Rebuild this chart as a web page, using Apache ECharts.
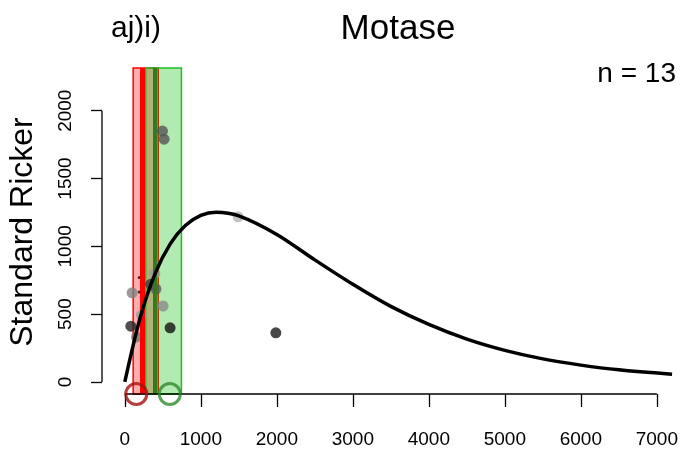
<!DOCTYPE html>
<html>
<head>
<meta charset="utf-8">
<script src="https://cdn.jsdelivr.net/npm/echarts@6/dist/echarts.min.js"></script>
<style>
    html, body { margin: 0; padding: 0; background: #fff; }
    #chart { width: 681px; height: 451px; }
</style>
</head>
<body>
<div id="chart"></div>
<script>
// ticks
const xTicks = [0, 1000, 2000, 3000, 4000, 5000, 6000, 7000]
const yTicks = [0, 500, 1000, 1500, 2000]

// observed points (13)
const pointX = [96, 79, 395, 340, 410, 504, 596, 496, 517, 1491, 1987, 219, 154]
const pointY = [657, 411, 800, 720, 685, 560, 399, 1850, 1790, 1218, 362, 492, 332]

// two tiny marks
const dotX = [190, 190]
const dotY = [770, 664]

// fitted curve
const curveX = [0, 200, 400, 600, 800, 1000, 1200, 1500, 2000, 2500, 3000, 3500, 4000, 4500, 5000, 5500, 6000, 6500, 7200]
const curveY = [0, 470, 800, 1020, 1155, 1228, 1252, 1225, 1088, 900, 720, 557, 424, 316, 233, 170, 124, 89, 56]

// bands, lines and circles on the x axis
const redBand = [110, 440]
const greenBand = [275, 745]
const redLine = 230
const greenLine = 400
const redCircle = 151
const greenCircle = 592

// plot range
const xMin = -300, xMax = 7210
const yMin = -89, yMax = 2315

const pointColors = ['#808080', '#222222', '#9a9a9a', '#3a3a3a', '#5a5a5a', '#8a8a8a',
    '#111111', '#555555', '#555555', '#b5b5b5', '#1a1a1a', '#999999', '#777777']

const font = 'Liberation Sans, Arial, Helvetica, sans-serif'

onload = () => {
    let myChart = echarts.init(document.getElementById('chart'), null, { renderer: 'canvas' })
    let option

    let points = pointX.map((x, i) => ({
        value: [x, pointY[i]],
        itemStyle: { color: pointColors[i] }
    }))
    let dots = dotX.map((x, i) => [x, dotY[i]])
    let curve = curveX.map((x, i) => [x, curveY[i]])

    option = {
        animation: false,
        backgroundColor: '#fff',
        title: [
            {
                text: 'Motase',
                left: 393, top: 7, textAlign: 'center',
                textStyle: { fontFamily: font, fontSize: 35, fontWeight: 'normal', color: '#000' }
            },
            {
                text: 'aj)i)',
                left: 131, top: 9, textAlign: 'center',
                textStyle: { fontFamily: font, fontSize: 30, fontWeight: 'normal', color: '#000' }
            },
            {
                text: 'n = 13',
                right: 0, top: 55,
                textStyle: { fontFamily: font, fontSize: 28, fontWeight: 'normal', color: '#000' }
            }
        ],
        graphic: [
            {
                type: 'text',
                x: 23, y: 232,
                rotation: Math.PI / 2,
                style: {
                    text: 'Standard Ricker',
                    font: '32px ' + font,
                    fill: '#000',
                    align: 'center',
                    verticalAlign: 'middle'
                }
            }
        ],
        grid: { left: 102, right: 8, top: 68, bottom: 57 },
        xAxis: {
            type: 'value',
            min: xMin, max: xMax,
            axisLine: { show: false, onZero: false },
            splitLine: { show: false },
            axisTick: { show: true, customValues: xTicks, length: 13, lineStyle: { color: '#000', width: 1.3 } },
            axisLabel: {
                customValues: xTicks, margin: 36, fontFamily: font, fontSize: 19, color: '#000',
                formatter: v => String(v)
            }
        },
        yAxis: {
            type: 'value',
            min: yMin, max: yMax,
            axisLine: { show: false, onZero: false },
            splitLine: { show: false },
            axisTick: { show: true, customValues: yTicks, length: 11, lineStyle: { color: '#000', width: 1.3 } },
            axisLabel: {
                customValues: yTicks, rotate: 90, margin: 27, fontFamily: font, fontSize: 19, color: '#000',
                formatter: v => String(v)
            }
        },
        series: [
            {
                type: 'scatter',
                z: 1,
                symbolSize: 11,
                data: points
            },
            {
                type: 'scatter',
                z: 1,
                symbolSize: 3,
                itemStyle: { color: '#000' },
                data: dots
            },
            {
                type: 'scatter',
                z: 2,
                data: [],
                markLine: {
                    silent: true, symbol: 'none', label: { show: false },
                    lineStyle: { color: '#2e7d1e', width: 4, type: 'solid' },
                    data: [{ xAxis: greenLine }]
                }
            },
            {
                type: 'scatter',
                z: 2,
                data: [],
                markLine: {
                    silent: true, symbol: 'none', label: { show: false },
                    lineStyle: { color: '#ff0000', width: 5, type: 'solid' },
                    data: [{ xAxis: redLine }]
                }
            },
            {
                type: 'scatter',
                z: 3,
                data: [],
                markArea: {
                    silent: true,
                    itemStyle: { color: 'rgba(255,0,0,0.32)', borderColor: '#ff0000', borderWidth: 1.5 },
                    data: [[{ xAxis: redBand[0] }, { xAxis: redBand[1] }]]
                }
            },
            {
                type: 'scatter',
                z: 4,
                data: [],
                markArea: {
                    silent: true,
                    itemStyle: { color: 'rgba(0,190,0,0.3)', borderColor: '#1fc01f', borderWidth: 1.5 },
                    data: [[{ xAxis: greenBand[0] }, { xAxis: greenBand[1] }]]
                }
            },
            {
                type: 'line',
                z: 5,
                smooth: 0.3,
                showSymbol: false,
                lineStyle: { color: '#000', width: 3.5 },
                data: curve
            },
            {
                type: 'line',
                z: 6,
                clip: false,
                showSymbol: false,
                lineStyle: { color: '#000', width: 1.3 },
                data: [[xTicks[0], yMin], [xTicks[xTicks.length - 1], yMin]]
            },
            {
                type: 'line',
                z: 6,
                clip: false,
                showSymbol: false,
                lineStyle: { color: '#000', width: 1.3 },
                data: [[xMin, yTicks[0]], [xMin, yTicks[yTicks.length - 1]]]
            },
            {
                type: 'scatter',
                z: 7,
                clip: false,
                symbolSize: 21,
                data: [
                    { value: [redCircle, yMin], itemStyle: { color: 'rgba(0,0,0,0)', borderColor: '#a50f0f', borderWidth: 3 } },
                    { value: [greenCircle, yMin], itemStyle: { color: 'rgba(0,0,0,0)', borderColor: '#2f8a2a', borderWidth: 3 } }
                ]
            }
        ]
    }

    option && myChart.setOption(option)
}
</script>
</body>
</html>
